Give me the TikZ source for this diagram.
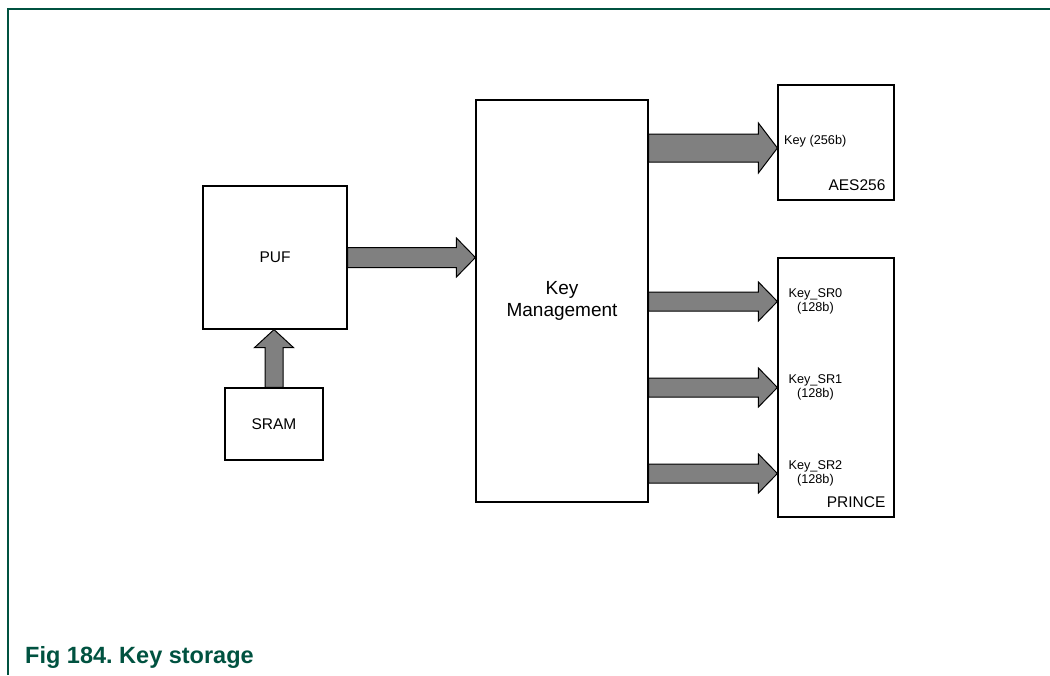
\documentclass[tikz,border=0pt]{standalone}
\usepackage{fontspec}
\setmainfont{Liberation Sans}
\usetikzlibrary{calc}
\frenchspacing

\definecolor{capgreen}{RGB}{0,82,64}
\definecolor{arrowgray}{RGB}{128,128,128}

\tikzset{
  block/.style={draw=black, line width=1.2pt, inner sep=0pt, font=\fontsize{15.5}{18}\selectfont},
  keylabel/.style={inner sep=0pt, align=center, font=\fontsize{12.7}{14.5}\selectfont},
  arrowbody/.style={draw=black, line width=1pt, fill=arrowgray, line join=miter},
}

% fat arrow from #1 to #2: half shaft #3, half head #4, head length #5
\newcommand{\fatarrow}[5]{%
  \coordinate (hb) at ($(#2)!#5!(#1)$);
  \draw[arrowbody] ($(#1)!#3!90:(#2)$) -- ($(hb)!#3!90:(#2)$) -- ($(hb)!#4!90:(#2)$) -- (#2)
    -- ($(hb)!#4!-90:(#2)$) -- ($(hb)!#3!-90:(#2)$) -- ($(#1)!#3!-90:(#2)$) -- cycle;}

\begin{document}
\begin{tikzpicture}[x=1pt,y=-1pt]
\useasboundingbox (0,0) rectangle (1050,675);

% page frame
\draw[capgreen, line width=2pt] (7,9) -- (1050,9);
\draw[capgreen, line width=1.5pt] (8,9) -- (8,675);

% blocks
\node[block, minimum width=144pt, minimum height=143pt] (puf) at (275,257.5) {PUF};
\node[block, minimum width=98pt, minimum height=72pt] (sram) at (274,424) {SRAM};
\node[block, minimum width=172pt, minimum height=402pt, align=center,
      font=\fontsize{19}{22}\selectfont] (km) at (562,301) {Key\\Management};
\node[block, minimum width=116pt, minimum height=115pt] (aes) at (836,142.5) {};
\node[block, minimum width=116pt, minimum height=259pt] (prince) at (836,387.5) {};

\node[block, draw=none, anchor=east] (aesname) at (886,185) {AES256};
\node[block, draw=none, anchor=east] (princename) at (886,502) {PRINCE};

% SRAM to PUF, PUF to key management
\coordinate (sramout) at (sram.north);
\coordinate (pufin) at (sram.north |- puf.south);
\fatarrow{sramout}{pufin}{9pt}{19.5pt}{18pt}

\coordinate (pufout) at (puf.east);
\coordinate (kmin) at (puf.east -| km.west);
\fatarrow{pufout}{kmin}{10pt}{19.5pt}{19pt}

% key to AES256
\coordinate (aeskey) at ($(aes.west)+(0,5.5)$);
\coordinate (kmaes) at (km.east |- aeskey);
\fatarrow{kmaes}{aeskey}{14pt}{25pt}{19pt}
\node[keylabel, anchor=west] (aeslab) at (784,141) {Key (256b)};

% keys to PRINCE
\foreach \dy [count=\i from 0] in {-86,0,86} {
  \coordinate (sr\i) at ($(prince.west)+(0,\dy)$);
  \coordinate (km\i) at (km.east |- sr\i);
  \fatarrow{km\i}{sr\i}{9.5pt}{19.5pt}{19pt}
  \node[keylabel, anchor=west] (srlab\i) at ($(sr\i)+(11,0)$) {Key\_SR\i\\(128b)};
}

% caption
\node[anchor=base west, inner sep=0pt, text=capgreen,
      font=\bfseries\fontsize{23.5}{28}\selectfont] (caption) at (25,663) {Fig 184. Key storage};
\end{tikzpicture}
\end{document}
